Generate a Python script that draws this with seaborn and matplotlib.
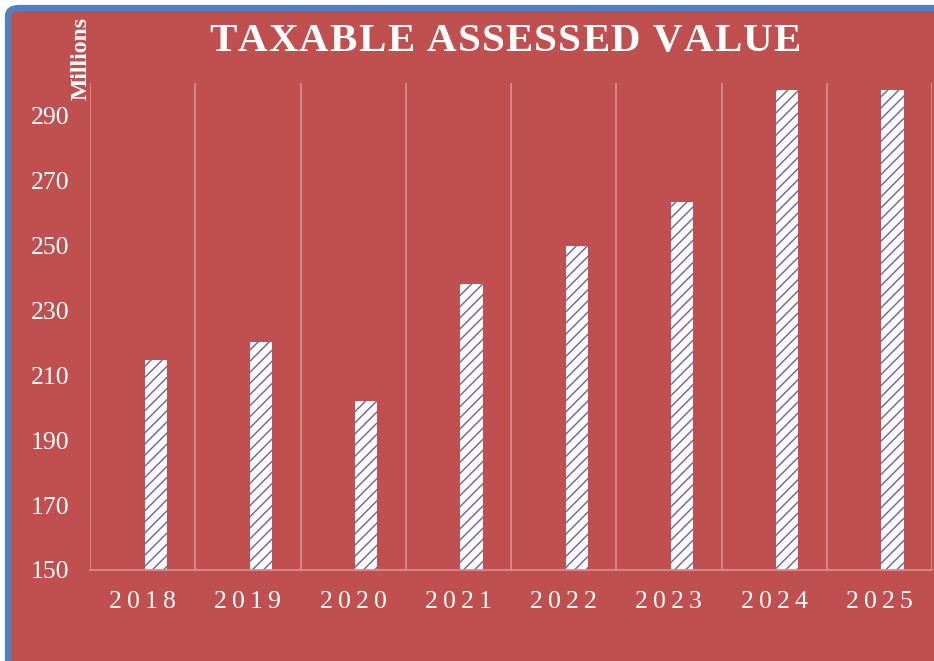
import matplotlib
matplotlib.use("Agg")
import matplotlib.pyplot as plt
from matplotlib.patches import FancyBboxPatch
import numpy as np
import pandas as pd
import seaborn as sns

# Taxable assessed value, in millions of dollars
years = ["2018", "2019", "2020", "2021", "2022", "2023", "2024", "2025"]
assessed_value = [214.6, 220.2, 202.0, 238.0, 249.7, 263.2, 297.7, 297.7]
series_order = ["Prior", "Taxable"]
y_ticks = [150, 170, 190, 210, 230, 250, 270, 290]
title = "TAXABLE ASSESSED VALUE"

RED = "#C0504F"
BLUE = "#4F81BD"
HATCH = "#7D66A8"
GRID = "#D68C8B"

sns.set_theme(style="white")
plt.rcParams["font.family"] = ["Liberation Serif", "DejaVu Serif"]
plt.rcParams["hatch.linewidth"] = 1.1
plt.rcParams["hatch.color"] = HATCH

df = pd.DataFrame({
    "year": years,
    "value": assessed_value,
    "series": ["Taxable"] * len(years),
})

fig = plt.figure(figsize=(9.34, 6.61), dpi=100)
fig.patch.set_facecolor("white")

# framed background panel with rounded corner
frame = FancyBboxPatch((8 / 934, -0.2), 1.3, (661 - 8) / 661 + 0.2,
                       boxstyle="round,pad=0,rounding_size=0.012",
                       transform=fig.transFigure, facecolor=RED,
                       edgecolor=BLUE, linewidth=4.5, zorder=-10)
fig.patches.append(frame)

ax = fig.add_axes([90 / 934, (661 - 570) / 661, (932 - 90) / 934, (570 - 83) / 661])
ax.set_zorder(1)
ax.set_facecolor("none")

sns.barplot(data=df, x="year", y="value", hue="series", hue_order=series_order,
            order=years, width=0.5, gap=0.16, dodge=True, ax=ax, legend=False,
            palette={"Prior": "white", "Taxable": "white"},
            edgecolor=HATCH, linewidth=0, hatch="///")
for bar in ax.patches:
    bar.set_hatch("///")
    bar.set_edgecolor(HATCH)
    bar.set_linewidth(0)

ax.set_xlim(-0.5, len(years) - 0.5)
ax.set_ylim(150, 300)
ax.set_yticks(y_ticks)
ax.set_yticklabels([str(v) for v in y_ticks])
ax.set_xticks(range(len(years)))
ax.set_xticklabels(["\u2009".join(y) for y in years])
ax.set_xticks(np.arange(-0.5, len(years), 1.0), minor=True)
ax.grid(which="minor", axis="x", color=GRID, linewidth=1.3)
ax.grid(which="major", visible=False)
ax.tick_params(axis="both", which="both", length=0)
ax.tick_params(axis="y", labelsize=18.5, labelcolor="white", pad=15)
ax.tick_params(axis="x", labelsize=18.5, labelcolor="white", pad=15)
ax.set_xlabel("")
ax.set_ylabel("")
for side in ["left", "right", "top"]:
    ax.spines[side].set_visible(False)
ax.spines["bottom"].set_color(GRID)
ax.spines["bottom"].set_linewidth(1.3)


def spaced_title(text, x_center_px, baseline_px, spacing_px, **kw):
    """Draw a title letter by letter with extra tracking, centred at x_center_px."""
    renderer = fig.canvas.get_renderer()
    probe = fig.text(0, 0, "x", **kw)
    probe.set_text("n n")
    with_space = probe.get_window_extent(renderer).width
    probe.set_text("nn")
    space_w = with_space - probe.get_window_extent(renderer).width
    advances = []
    for ch in text:
        if ch == " ":
            advances.append(space_w)
        else:
            probe.set_text(ch)
            advances.append(probe.get_window_extent(renderer).width)
    probe.remove()
    total = sum(advances) + spacing_px * (len(text) - 1)
    x = x_center_px - total / 2
    H = fig.get_figheight() * fig.dpi
    W = fig.get_figwidth() * fig.dpi
    for ch, adv in zip(text, advances):
        if ch != " ":
            fig.text(x / W, (H - baseline_px) / H, ch, ha="left", va="baseline", **kw)
        x += adv + spacing_px


spaced_title(title, 505, 51, 1.2, color="white", fontsize=29.5, fontweight="bold")
fig.text(81 / 934, (661 - 59) / 661, "Millions", color="white", rotation=90,
         fontsize=17, fontweight="bold", ha="center", va="center")

fig.savefig("out.png", dpi=100, facecolor=fig.get_facecolor())
